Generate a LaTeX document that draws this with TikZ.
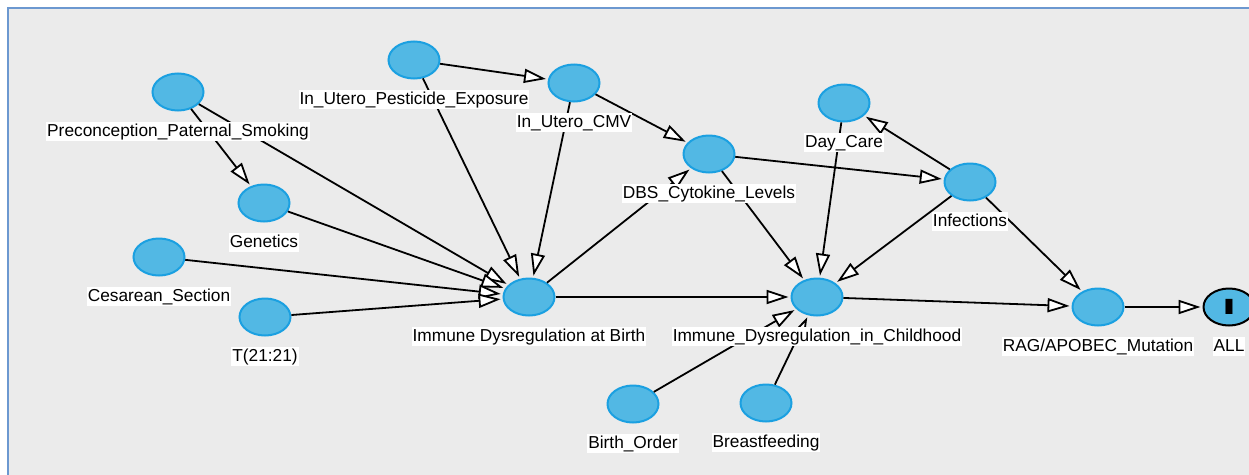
\documentclass[tikz,border=0pt]{standalone}
\usepackage{fontspec}
\setmainfont{Liberation Sans}
\usetikzlibrary{shapes,positioning,arrows.meta}

\definecolor{nodeblue}{RGB}{82,184,228}
\definecolor{rimblue}{RGB}{27,160,225}
\definecolor{panelgray}{RGB}{235,235,235}
\definecolor{frameblue}{RGB}{108,152,208}

\begin{document}
\begin{tikzpicture}[x=1pt,y=-1pt,>={Triangle[fill=white,length=22pt,width=14pt]}]
\tikzstyle{every node}=[font=\fontsize{17.3}{20}\selectfont]
\tikzstyle{var}=[draw=rimblue, fill=nodeblue, ellipse, line width=2pt, minimum width=51pt, minimum height=37pt, inner sep=0pt]
\tikzstyle{lbl}=[fill=white, inner xsep=1pt, inner ysep=1pt, text height=13.5pt, text depth=3.5pt]
\tikzstyle{edge}=[line width=1.8pt, shorten >=2pt]

\useasboundingbox (0,0) rectangle (1249,474);
\fill[panelgray] (8,8) rectangle (1256,480);
\draw[frameblue, line width=2pt] (8,480) -- (8,8) -- (1256,8);

% Prenatal variables
\node[var] (smoke) at (178,92) {};
\node[var] (pest) at (414,60) {};
\node[var] (cmv) at (574,83) {};
\node[var] (gen) at (264,203) {};
\node[var] (ces) at (159,257) {};
\node[var] (t21) at (265,317) {};
% Birth and childhood
\node[var] (birth) at (529,297) {};
\node[var] (dbs) at (709,154) {};
\node[var] (child) at (817,297) {};
\node[var] (care) at (844,103) {};
\node[var] (inf) at (970,182) {};
\node[var] (order) at (633,404) {};
\node[var] (breast) at (766,403) {};
% Outcome
\node[var] (rag) at (1098,307) {};
\node[var, draw=black] (all) at (1229,307) {\fontsize{22}{22}\selectfont\bfseries\scalebox{2.2}[1]{I}};

% Into birth
\foreach \s in {smoke,pest,cmv,gen,ces,t21}
  \draw[edge,->] (\s) -- (birth);
\draw[edge,->] (smoke) -- (gen);
\draw[edge,->] (pest) -- (cmv);
\draw[edge,->] (cmv) -- (dbs);
\draw[edge,->] (birth) -- (dbs);
\draw[edge,->] (birth) -- (child);
% Into childhood
\foreach \s in {dbs,care,inf,order,breast}
  \draw[edge,->] (\s) -- (child);
\draw[edge,->] (dbs) -- (inf);
\draw[edge,->] (inf) -- (care);
\draw[edge,->] (inf) -- (rag);
\draw[edge,->] (child) -- (rag);
\draw[edge,->] (rag) -- (all);

% Labels
\node[lbl, below=10pt of smoke] (smoke-l) {Preconception\_Paternal\_Smoking};
\node[lbl, below=10pt of pest] (pest-l) {In\_Utero\_Pesticide\_Exposure};
\node[lbl, below=10pt of cmv] (cmv-l) {In\_Utero\_CMV};
\node[lbl, below=10pt of gen] (gen-l) {Genetics};
\node[lbl, below=10pt of ces] (ces-l) {Cesarean\_Section};
\node[lbl, below=10pt of t21] (t21-l) {T(21:21)};
\node[lbl, below=10pt of birth] (birth-l) {Immune Dysregulation at Birth};
\node[lbl, below=10pt of dbs] (dbs-l) {DBS\_Cytokine\_Levels};
\node[lbl, below=10pt of child] (child-l) {Immune\_Dysregulation\_in\_Childhood};
\node[lbl, below=10pt of care] (care-l) {Day\_Care};
\node[lbl, below=10pt of inf] (inf-l) {Infections};
\node[lbl, below=10pt of order] (order-l) {Birth\_Order};
\node[lbl, below=10pt of breast] (breast-l) {Breastfeeding};
\node[lbl, below=10pt of rag] (rag-l) {RAG/APOBEC\_Mutation};
\node[lbl, below=10pt of all] (all-l) {ALL};
\end{tikzpicture}
\end{document}
